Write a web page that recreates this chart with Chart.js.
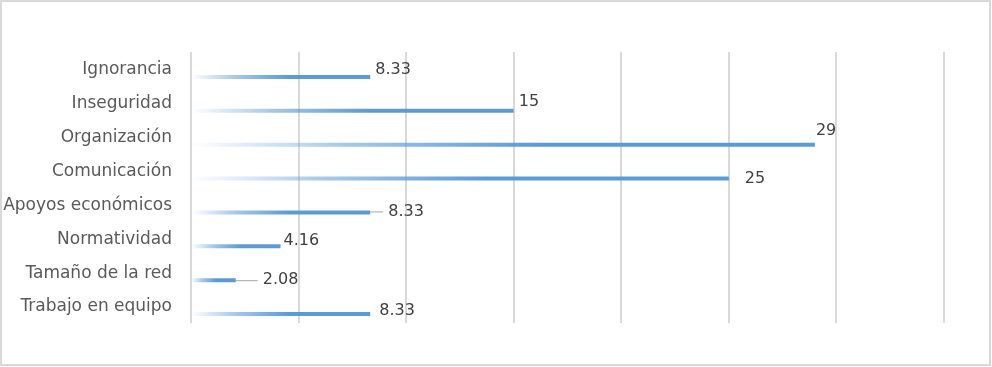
<!DOCTYPE html>
<html>
<head>
<meta charset="utf-8">
<script src="https://cdn.jsdelivr.net/npm/chart.js@4/dist/chart.umd.min.js"></script>
<style>
  html, body { margin: 0; padding: 0; background: #fff; }
  #wrap { width: 992px; height: 367px; }
</style>
</head>
<body>
<div id="wrap"><canvas id="chart" width="992" height="367"></canvas></div>
<script>
const categories = ['Ignorancia', 'Inseguridad', 'Organización', 'Comunicación',
  'Apoyos económicos', 'Normatividad', 'Tamaño de la red', 'Trabajo en equipo']
const values = [8.33, 15, 29, 25, 8.33, 4.16, 2.08, 8.33]
const valueLabels = ['8.33', '15', '29', '25', '8.33', '4.16', '2.08', '8.33']
const placeholder = categories.map(() => null)
const axisTicks = { min: 0, max: 35, step: 5 }

const barRGB = '91,155,213'

// label nudges, Excel style (dx, dy from bar end), leader line when far
const labelNudge = [[5, -7], [5, -9], [1, -14], [16, 0], [18, -1], [3, -5], [27, 0], [9, -3]]
const leaders = [false, false, false, false, true, false, true, false]

function fadeFill(ctx) {
    const chart = ctx.chart
    if (!chart.chartArea || ctx.raw == null) return 'rgb(' + barRGB + ')'
    const xs = chart.scales.x
    const x0 = xs.getPixelForValue(0)
    const x1 = xs.getPixelForValue(ctx.raw)
    const g = chart.ctx.createLinearGradient(x0, 0, x1, 0)
    g.addColorStop(0, 'rgba(' + barRGB + ',0)')
    g.addColorStop(0.25, 'rgba(' + barRGB + ',0.55)')
    g.addColorStop(0.55, 'rgba(' + barRGB + ',1)')
    g.addColorStop(1, 'rgba(' + barRGB + ',1)')
    return g
}

const frame = {
    id: 'frame',
    beforeDraw(chart) {
        const c = chart.ctx
        c.save()
        c.fillStyle = '#fff'
        c.fillRect(0, 0, chart.width, chart.height)
        c.strokeStyle = '#d9d9d9'
        c.lineWidth = 2
        c.strokeRect(1, 1, chart.width - 3, chart.height - 3)
        c.restore()
    }
}

const valueText = {
    id: 'valueText',
    afterDatasetsDraw(chart) {
        const c = chart.ctx
        const meta = chart.getDatasetMeta(1)
        c.save()
        c.font = '16px "DejaVu Sans"'
        c.textBaseline = 'middle'
        c.textAlign = 'left'
        meta.data.forEach((bar, i) => {
            const x = bar.x + labelNudge[i][0]
            const y = bar.y + labelNudge[i][1]
            if (leaders[i]) {
                c.strokeStyle = '#a6a6a6'
                c.lineWidth = 1
                c.beginPath()
                c.moveTo(bar.x, y + 0.5)
                c.lineTo(x - 5, y + 0.5)
                c.stroke()
            }
            c.fillStyle = '#404040'
            c.fillText(valueLabels[i], x, y)
        })
        c.restore()
    }
}

new Chart(document.getElementById('chart'), {
    type: 'bar',
    data: {
        labels: categories,
        datasets: [{
            label: 'spacer',
            data: placeholder,
            backgroundColor: 'transparent'
        }, {
            label: 'Valor',
            data: values,
            backgroundColor: fadeFill
        }]
    },
    options: {
        indexAxis: 'y',
        responsive: false,
        devicePixelRatio: 1,
        animation: false,
        categoryPercentage: 0.945,
        barPercentage: 0.25,
        layout: { padding: { left: 0, top: 52, right: 48, bottom: 44 } },
        plugins: {
            legend: { display: false },
            tooltip: { enabled: false }
        },
        scales: {
            x: {
                min: axisTicks.min,
                max: axisTicks.max,
                ticks: { display: false, stepSize: axisTicks.step },
                grid: { color: '#d9d9d9', lineWidth: 2, drawTicks: false },
                border: { display: false },
                afterFit: s => { s.height = 0 }
            },
            y: {
                grid: { display: false, drawTicks: false },
                border: { display: false },
                ticks: {
                    color: '#595959',
                    font: { family: 'DejaVu Sans', size: 17 },
                    padding: 19,
                    labelOffset: 1
                },
                afterFit: s => { s.width = 191 }
            }
        }
    },
    plugins: [frame, valueText]
});
</script>
</body>
</html>
